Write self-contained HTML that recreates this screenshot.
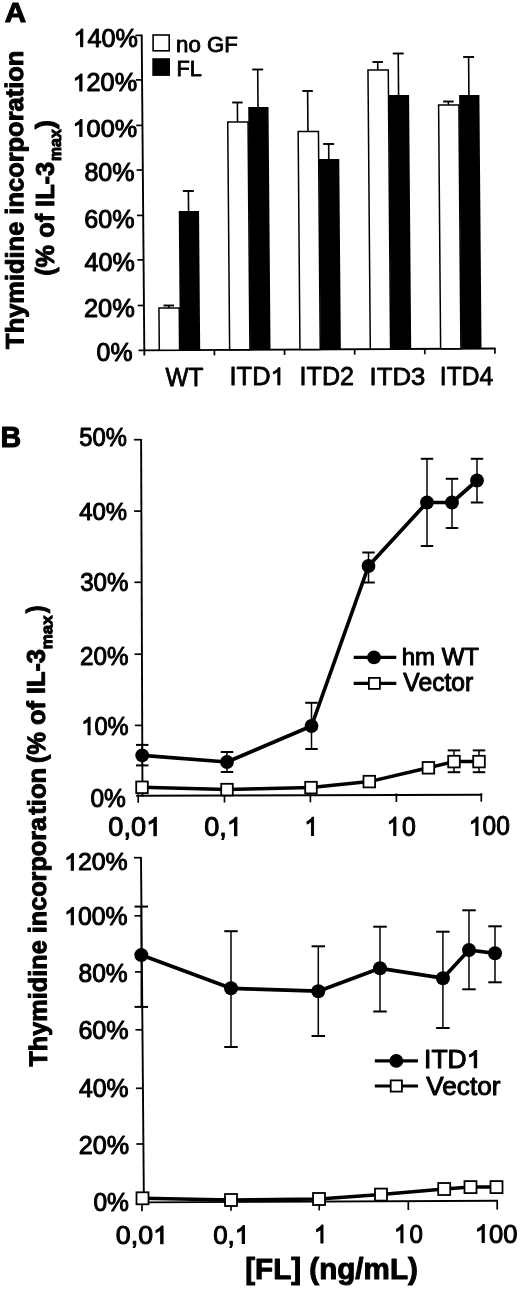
<!DOCTYPE html>
<html><head><meta charset="utf-8"><title>Figure</title>
<style>
html,body{margin:0;padding:0;background:#fff;}
body{width:520px;height:1291px;overflow:hidden;font-family:"Liberation Sans", sans-serif;}
svg{display:block;}
svg text{font-family:"Liberation Sans", sans-serif;fill:#000;stroke:#000;stroke-linejoin:round;}
</style></head>
<body>
<svg width="520" height="1291" viewBox="0 0 520 1291">
<defs><filter id="soft" x="0" y="0" width="520" height="1291" filterUnits="userSpaceOnUse"><feGaussianBlur stdDeviation="0.45"/></filter></defs>
<rect width="520" height="1291" fill="#fff"/>
<g filter="url(#soft)">
<text transform="translate(4.76 22.15) scale(1.0991 1)" font-size="26.96" font-weight="bold" stroke-width="1.0">A</text>
<text transform="translate(23.60 348.90) rotate(-90.13) scale(1.0063 1)" font-size="25.30" font-weight="bold" stroke-width="1.0">Thymidine incorporation</text>
<text transform="translate(53.90 275.82) rotate(-90.00) scale(0.9939 1)" font-size="25.50" font-weight="bold" stroke-width="1.0">(% of IL-3</text>
<text transform="translate(61.30 160.98) rotate(-90.00) scale(1.0028 1)" font-size="15.80" font-weight="bold" stroke-width="1.0">max</text>
<text transform="translate(53.90 128.88) rotate(-90.00) scale(1.0504 1)" font-size="25.50" font-weight="bold" stroke-width="1.0">)</text>
<line x1="141.70" y1="34.60" x2="144.35" y2="355.40" stroke="#000" stroke-width="1.9"/>
<line x1="138.50" y1="350.35" x2="495.60" y2="348.45" stroke="#000" stroke-width="1.9"/>
<line x1="137.74" y1="305.50" x2="143.94" y2="305.50" stroke="#000" stroke-width="1.7"/>
<line x1="137.36" y1="259.90" x2="143.56" y2="259.90" stroke="#000" stroke-width="1.7"/>
<line x1="136.99" y1="215.40" x2="143.19" y2="215.40" stroke="#000" stroke-width="1.7"/>
<line x1="136.62" y1="170.00" x2="142.82" y2="170.00" stroke="#000" stroke-width="1.7"/>
<line x1="136.25" y1="125.40" x2="142.45" y2="125.40" stroke="#000" stroke-width="1.7"/>
<line x1="135.87" y1="79.90" x2="142.07" y2="79.90" stroke="#000" stroke-width="1.7"/>
<line x1="135.51" y1="35.40" x2="141.71" y2="35.40" stroke="#000" stroke-width="1.7"/>
<line x1="214.42" y1="349.95" x2="214.42" y2="355.35" stroke="#000" stroke-width="1.7"/>
<line x1="284.54" y1="349.57" x2="284.54" y2="354.97" stroke="#000" stroke-width="1.7"/>
<line x1="354.66" y1="349.20" x2="354.66" y2="354.60" stroke="#000" stroke-width="1.7"/>
<line x1="424.78" y1="348.83" x2="424.78" y2="354.23" stroke="#000" stroke-width="1.7"/>
<line x1="494.90" y1="348.45" x2="494.90" y2="353.85" stroke="#000" stroke-width="1.7"/>
<line x1="168.75" y1="308.00" x2="168.73" y2="305.50" stroke="#000" stroke-width="1.6"/>
<line x1="163.48" y1="305.50" x2="173.98" y2="305.50" stroke="#000" stroke-width="1.9"/>
<line x1="188.55" y1="211.00" x2="188.38" y2="191.00" stroke="#000" stroke-width="1.6"/>
<line x1="182.88" y1="191.00" x2="193.88" y2="191.00" stroke="#000" stroke-width="1.9"/>
<polygon points="159.30,350.13 158.95,308 179.25,308 179.60,350.13" fill="#fff" stroke="#000" stroke-width="1.5"/>
<polygon points="179.90,350.13 178.75,211 199.05,211 200.20,350.13" fill="#000"/>
<line x1="237.54" y1="122.00" x2="237.38" y2="102.50" stroke="#000" stroke-width="1.6"/>
<line x1="232.13" y1="102.50" x2="242.63" y2="102.50" stroke="#000" stroke-width="1.9"/>
<line x1="258.02" y1="107.00" x2="257.70" y2="69.50" stroke="#000" stroke-width="1.6"/>
<line x1="252.20" y1="69.50" x2="263.20" y2="69.50" stroke="#000" stroke-width="1.9"/>
<polygon points="229.63,349.76 227.74,122 248.04,122 249.93,349.76" fill="#fff" stroke="#000" stroke-width="1.5"/>
<polygon points="250.23,349.76 248.22,107 268.52,107 270.53,349.76" fill="#000"/>
<line x1="307.95" y1="131.50" x2="307.62" y2="91.00" stroke="#000" stroke-width="1.6"/>
<line x1="302.37" y1="91.00" x2="312.87" y2="91.00" stroke="#000" stroke-width="1.9"/>
<line x1="328.78" y1="159.00" x2="328.66" y2="144.00" stroke="#000" stroke-width="1.6"/>
<line x1="323.16" y1="144.00" x2="334.16" y2="144.00" stroke="#000" stroke-width="1.9"/>
<polygon points="299.96,349.38 298.15,131.5 318.45,131.5 320.26,349.38" fill="#fff" stroke="#000" stroke-width="1.5"/>
<polygon points="320.56,349.38 318.98,159 339.28,159 340.86,349.38" fill="#000"/>
<line x1="377.77" y1="70.00" x2="377.71" y2="62.00" stroke="#000" stroke-width="1.6"/>
<line x1="372.46" y1="62.00" x2="382.96" y2="62.00" stroke="#000" stroke-width="1.9"/>
<line x1="398.58" y1="95.00" x2="398.24" y2="53.50" stroke="#000" stroke-width="1.6"/>
<line x1="392.74" y1="53.50" x2="403.74" y2="53.50" stroke="#000" stroke-width="1.9"/>
<polygon points="370.29,349.01 367.97,70 388.27,70 390.59,349.01" fill="#fff" stroke="#000" stroke-width="1.5"/>
<polygon points="390.89,349.01 388.78,95 409.08,95 411.19,349.01" fill="#000"/>
<line x1="448.40" y1="105.00" x2="448.37" y2="101.50" stroke="#000" stroke-width="1.6"/>
<line x1="443.12" y1="101.50" x2="453.62" y2="101.50" stroke="#000" stroke-width="1.9"/>
<line x1="468.91" y1="95.00" x2="468.60" y2="57.00" stroke="#000" stroke-width="1.6"/>
<line x1="463.10" y1="57.00" x2="474.10" y2="57.00" stroke="#000" stroke-width="1.9"/>
<polygon points="440.62,348.64 438.60,105 458.90,105 460.92,348.64" fill="#fff" stroke="#000" stroke-width="1.5"/>
<polygon points="461.22,348.64 459.11,95 479.41,95 481.52,348.64" fill="#000"/>
<g transform="translate(73.40 46.79) scale(0.9726 1)"><text font-size="25.92" stroke-width="1.0"><tspan visibility="hidden">1</tspan>40%</text><path transform="translate(0.00 0) scale(0.01265 -0.01265)" d="M763 0H583V1098Q518 1039 412 979T223 890V1057Q373 1125 486 1220T646 1409H763Z" stroke="#000" stroke-width="79.0" stroke-linejoin="round"/></g>
<g transform="translate(72.60 91.10) scale(1.0111 1)"><text font-size="24.93" stroke-width="1.0"><tspan visibility="hidden">1</tspan>20%</text><path transform="translate(0.00 0) scale(0.01217 -0.01217)" d="M763 0H583V1098Q518 1039 412 979T223 890V1057Q373 1125 486 1220T646 1409H763Z" stroke="#000" stroke-width="82.2" stroke-linejoin="round"/></g>
<g transform="translate(72.60 136.50) scale(1.0169 1)"><text font-size="24.79" stroke-width="1.0"><tspan visibility="hidden">1</tspan>00%</text><path transform="translate(0.00 0) scale(0.01210 -0.01210)" d="M763 0H583V1098Q518 1039 412 979T223 890V1057Q373 1125 486 1220T646 1409H763Z" stroke="#000" stroke-width="82.6" stroke-linejoin="round"/></g>
<text transform="translate(84.42 181.40) scale(0.9882 1)" font-size="25.35" stroke-width="1.0">80%</text>
<text transform="translate(84.29 227.60) scale(0.9907 1)" font-size="25.35" stroke-width="1.0">60%</text>
<text transform="translate(84.62 271.00) scale(0.9957 1)" font-size="25.21" stroke-width="1.0">40%</text>
<text transform="translate(83.98 317.00) scale(1.0144 1)" font-size="25.07" stroke-width="1.0">20%</text>
<text transform="translate(96.55 361.40) scale(0.9818 1)" font-size="25.35" stroke-width="1.0">0%</text>
<text transform="translate(165.43 385.65) scale(0.9612 1)" font-size="25.36" stroke-width="0.8">WT</text>
<g transform="translate(229.56 384.92) scale(1.0101 1)"><text font-size="25.18" stroke-width="0.8">ITD<tspan visibility="hidden">1</tspan></text><path transform="translate(40.56 0) scale(0.01229 -0.01229)" d="M763 0H583V1098Q518 1039 412 979T223 890V1057Q373 1125 486 1220T646 1409H763Z" stroke="#000" stroke-width="65.1" stroke-linejoin="round"/></g>
<text transform="translate(299.59 384.65) scale(0.9885 1)" font-size="25.43" stroke-width="0.8">ITD2</text>
<text transform="translate(369.54 385.00) scale(1.0433 1)" font-size="24.65" stroke-width="0.8">ITD3</text>
<text transform="translate(439.83 385.25) scale(0.9554 1)" font-size="25.80" stroke-width="0.8">ITD4</text>
<rect x="153.1" y="35.0" width="16.1" height="15.8" fill="#fff" stroke="#000" stroke-width="1.6"/>
<rect x="152.3" y="58.2" width="17.7" height="17.7" fill="#000"/>
<text transform="translate(176.10 52.23) scale(1.0322 1)" font-size="21.55" stroke-width="0.8">no GF</text>
<text transform="translate(176.61 75.85) scale(1.0189 1)" font-size="21.30" stroke-width="0.8">FL</text>
<text transform="translate(0.49 447.05) scale(0.9848 1)" font-size="29.13" font-weight="bold" stroke-width="1.0">B</text>
<line x1="141.10" y1="438.90" x2="142.50" y2="796.60" stroke="#000" stroke-width="1.9"/>
<line x1="136.20" y1="795.80" x2="482.20" y2="794.70" stroke="#000" stroke-width="1.9"/>
<line x1="134.92" y1="725.40" x2="142.22" y2="725.40" stroke="#000" stroke-width="1.7"/>
<line x1="134.64" y1="654.20" x2="141.94" y2="654.20" stroke="#000" stroke-width="1.7"/>
<line x1="134.36" y1="582.30" x2="141.66" y2="582.30" stroke="#000" stroke-width="1.7"/>
<line x1="134.08" y1="511.10" x2="141.38" y2="511.10" stroke="#000" stroke-width="1.7"/>
<line x1="133.80" y1="439.70" x2="141.10" y2="439.70" stroke="#000" stroke-width="1.7"/>
<line x1="138.20" y1="794.29" x2="138.20" y2="802.79" stroke="#000" stroke-width="1.7"/>
<line x1="224.50" y1="794.02" x2="224.50" y2="802.52" stroke="#000" stroke-width="1.7"/>
<line x1="310.40" y1="793.75" x2="310.40" y2="802.25" stroke="#000" stroke-width="1.7"/>
<line x1="396.40" y1="793.47" x2="396.40" y2="801.97" stroke="#000" stroke-width="1.7"/>
<line x1="481.30" y1="793.20" x2="481.30" y2="801.70" stroke="#000" stroke-width="1.7"/>
<line x1="454.00" y1="750.40" x2="454.00" y2="772.20" stroke="#000" stroke-width="1.5"/>
<line x1="447.75" y1="750.40" x2="460.25" y2="750.40" stroke="#000" stroke-width="2.0"/>
<line x1="447.75" y1="772.20" x2="460.25" y2="772.20" stroke="#000" stroke-width="2.0"/>
<line x1="479.00" y1="750.40" x2="479.00" y2="772.20" stroke="#000" stroke-width="1.5"/>
<line x1="472.75" y1="750.40" x2="485.25" y2="750.40" stroke="#000" stroke-width="2.0"/>
<line x1="472.75" y1="772.20" x2="485.25" y2="772.20" stroke="#000" stroke-width="2.0"/>
<polyline points="142,787.3 227,789.6 311,787.6 369.3,781.6 428.4,767.8 454,761.6 479,761.6" fill="none" stroke="#000" stroke-width="3.5" stroke-linejoin="round"/>
<rect x="136.20" y="781.50" width="11.6" height="11.6" fill="#fff" stroke="#000" stroke-width="1.8"/>
<rect x="221.20" y="783.80" width="11.6" height="11.6" fill="#fff" stroke="#000" stroke-width="1.8"/>
<rect x="305.20" y="781.80" width="11.6" height="11.6" fill="#fff" stroke="#000" stroke-width="1.8"/>
<rect x="363.50" y="775.80" width="11.6" height="11.6" fill="#fff" stroke="#000" stroke-width="1.8"/>
<rect x="422.60" y="762.00" width="11.6" height="11.6" fill="#fff" stroke="#000" stroke-width="1.8"/>
<rect x="448.20" y="755.80" width="11.6" height="11.6" fill="#fff" stroke="#000" stroke-width="1.8"/>
<rect x="473.20" y="755.80" width="11.6" height="11.6" fill="#fff" stroke="#000" stroke-width="1.8"/>
<line x1="142.20" y1="744.90" x2="142.20" y2="765.40" stroke="#000" stroke-width="1.5"/>
<line x1="135.95" y1="744.90" x2="148.45" y2="744.90" stroke="#000" stroke-width="2.0"/>
<line x1="135.95" y1="765.40" x2="148.45" y2="765.40" stroke="#000" stroke-width="2.0"/>
<line x1="227.00" y1="752.00" x2="227.00" y2="772.00" stroke="#000" stroke-width="1.5"/>
<line x1="220.75" y1="752.00" x2="233.25" y2="752.00" stroke="#000" stroke-width="2.0"/>
<line x1="220.75" y1="772.00" x2="233.25" y2="772.00" stroke="#000" stroke-width="2.0"/>
<line x1="311.50" y1="702.80" x2="311.50" y2="749.00" stroke="#000" stroke-width="1.5"/>
<line x1="305.25" y1="702.80" x2="317.75" y2="702.80" stroke="#000" stroke-width="2.0"/>
<line x1="305.25" y1="749.00" x2="317.75" y2="749.00" stroke="#000" stroke-width="2.0"/>
<line x1="368.50" y1="552.50" x2="368.50" y2="582.50" stroke="#000" stroke-width="1.5"/>
<line x1="362.25" y1="552.50" x2="374.75" y2="552.50" stroke="#000" stroke-width="2.0"/>
<line x1="362.25" y1="582.50" x2="374.75" y2="582.50" stroke="#000" stroke-width="2.0"/>
<line x1="427.00" y1="458.80" x2="427.00" y2="546.00" stroke="#000" stroke-width="1.5"/>
<line x1="420.75" y1="458.80" x2="433.25" y2="458.80" stroke="#000" stroke-width="2.0"/>
<line x1="420.75" y1="546.00" x2="433.25" y2="546.00" stroke="#000" stroke-width="2.0"/>
<line x1="452.00" y1="478.80" x2="452.00" y2="528.00" stroke="#000" stroke-width="1.5"/>
<line x1="445.75" y1="478.80" x2="458.25" y2="478.80" stroke="#000" stroke-width="2.0"/>
<line x1="445.75" y1="528.00" x2="458.25" y2="528.00" stroke="#000" stroke-width="2.0"/>
<line x1="477.00" y1="458.80" x2="477.00" y2="502.50" stroke="#000" stroke-width="1.5"/>
<line x1="470.75" y1="458.80" x2="483.25" y2="458.80" stroke="#000" stroke-width="2.0"/>
<line x1="470.75" y1="502.50" x2="483.25" y2="502.50" stroke="#000" stroke-width="2.0"/>
<polyline points="142.2,755.3 227,762 311.5,726 368.5,566 427,502.5 452,502.5 477,480.5" fill="none" stroke="#000" stroke-width="3.7" stroke-linejoin="round"/>
<circle cx="142.2" cy="755.3" r="6.9" fill="#000"/>
<circle cx="227" cy="762" r="6.9" fill="#000"/>
<circle cx="311.5" cy="726" r="6.9" fill="#000"/>
<circle cx="368.5" cy="566" r="6.9" fill="#000"/>
<circle cx="427" cy="502.5" r="6.9" fill="#000"/>
<circle cx="452" cy="502.5" r="6.9" fill="#000"/>
<circle cx="477" cy="480.5" r="6.9" fill="#000"/>
<text transform="translate(79.20 446.00) scale(0.9385 1)" font-size="25.35" stroke-width="1.0">50%</text>
<text transform="translate(79.25 520.30) scale(0.9649 1)" font-size="24.79" stroke-width="1.0">40%</text>
<text transform="translate(80.19 591.40) scale(0.9561 1)" font-size="25.21" stroke-width="1.0">30%</text>
<text transform="translate(79.94 664.50) scale(0.9611 1)" font-size="25.21" stroke-width="1.0">20%</text>
<g transform="translate(81.26 734.79) scale(0.9249 1)"><text font-size="25.63" stroke-width="1.0"><tspan visibility="hidden">1</tspan>0%</text><path transform="translate(0.00 0) scale(0.01252 -0.01252)" d="M763 0H583V1098Q518 1039 412 979T223 890V1057Q373 1125 486 1220T646 1409H763Z" stroke="#000" stroke-width="79.9" stroke-linejoin="round"/></g>
<text transform="translate(90.47 806.80) scale(0.9728 1)" font-size="25.21" stroke-width="1.0">0%</text>
<g transform="translate(108.36 835.80) scale(1.0145 1)"><text font-size="26.80" stroke-width="1.0">0,0<tspan visibility="hidden">1</tspan></text><path transform="translate(37.26 0) scale(0.01309 -0.01309)" d="M763 0H583V1098Q518 1039 412 979T223 890V1057Q373 1125 486 1220T646 1409H763Z" stroke="#000" stroke-width="76.4" stroke-linejoin="round"/></g>
<g transform="translate(204.17 835.70) scale(1.0110 1)"><text font-size="26.80" stroke-width="1.0">0,<tspan visibility="hidden">1</tspan></text><path transform="translate(22.35 0) scale(0.01309 -0.01309)" d="M763 0H583V1098Q518 1039 412 979T223 890V1057Q373 1125 486 1220T646 1409H763Z" stroke="#000" stroke-width="76.4" stroke-linejoin="round"/></g>
<g transform="translate(304.32 835.60) scale(0.9300 1)"><text font-size="26.80" stroke-width="1.0"><tspan visibility="hidden">1</tspan></text><path transform="translate(0.00 0) scale(0.01309 -0.01309)" d="M763 0H583V1098Q518 1039 412 979T223 890V1057Q373 1125 486 1220T646 1409H763Z" stroke="#000" stroke-width="76.4" stroke-linejoin="round"/></g>
<g transform="translate(386.62 835.50) scale(0.9300 1)"><text font-size="26.80" stroke-width="1.0"><tspan visibility="hidden">1</tspan></text><path transform="translate(0.00 0) scale(0.01309 -0.01309)" d="M763 0H583V1098Q518 1039 412 979T223 890V1057Q373 1125 486 1220T646 1409H763Z" stroke="#000" stroke-width="76.4" stroke-linejoin="round"/></g>
<text transform="translate(402.08 835.50) scale(0.9300 1)" font-size="26.80" stroke-width="1.0">0</text>
<g transform="translate(468.87 835.40) scale(0.9157 1)"><text font-size="26.80" stroke-width="1.0"><tspan visibility="hidden">1</tspan>00</text><path transform="translate(0.00 0) scale(0.01309 -0.01309)" d="M763 0H583V1098Q518 1039 412 979T223 890V1057Q373 1125 486 1220T646 1409H763Z" stroke="#000" stroke-width="76.4" stroke-linejoin="round"/></g>
<line x1="353.70" y1="657.40" x2="396.30" y2="657.40" stroke="#000" stroke-width="3.1"/>
<circle cx="374.0" cy="657.4" r="6.9" fill="#000"/>
<text transform="translate(401.67 664.55) scale(0.9897 1)" font-size="24.28" stroke-width="1.0">hm WT</text>
<line x1="353.70" y1="683.40" x2="396.30" y2="683.40" stroke="#000" stroke-width="3.1"/>
<rect x="368.9" y="677.9" width="11.0" height="11.0" fill="#fff" stroke="#000" stroke-width="1.8"/>
<text transform="translate(403.33 691.00) scale(0.9699 1)" font-size="25.43" stroke-width="1.0">Vector</text>
<text transform="translate(47.00 1066.60) rotate(-90.33) scale(0.9991 1)" font-size="25.30" font-weight="bold" stroke-width="1.0">Thymidine incorpora</text>
<text transform="translate(45.56 814.81) rotate(-90.33) scale(1.0173 1)" font-size="25.30" font-weight="bold" stroke-width="1.0">tion</text>
<text transform="translate(45.26 763.02) rotate(-90.33) scale(0.9930 1)" font-size="25.50" font-weight="bold" stroke-width="1.0">(% of IL-3</text>
<text transform="translate(52.30 649.25) rotate(-90.33) scale(1.0718 1)" font-size="15.80" font-weight="bold" stroke-width="1.0">max</text>
<text transform="translate(44.40 613.37) rotate(-90.33) scale(0.9136 1)" font-size="25.80" font-weight="bold" stroke-width="1.0">)</text>
<line x1="141.00" y1="856.90" x2="143.90" y2="1203.20" stroke="#000" stroke-width="1.9"/>
<line x1="143.20" y1="1202.40" x2="497.80" y2="1200.80" stroke="#000" stroke-width="1.9"/>
<line x1="136.40" y1="1144.00" x2="143.40" y2="1144.00" stroke="#000" stroke-width="1.7"/>
<line x1="135.94" y1="1088.30" x2="142.94" y2="1088.30" stroke="#000" stroke-width="1.7"/>
<line x1="135.45" y1="1029.80" x2="142.45" y2="1029.80" stroke="#000" stroke-width="1.7"/>
<line x1="134.96" y1="971.90" x2="141.96" y2="971.90" stroke="#000" stroke-width="1.7"/>
<line x1="134.49" y1="915.80" x2="141.49" y2="915.80" stroke="#000" stroke-width="1.7"/>
<line x1="134.01" y1="857.70" x2="141.01" y2="857.70" stroke="#000" stroke-width="1.7"/>
<line x1="142.00" y1="1202.41" x2="142.00" y2="1211.21" stroke="#000" stroke-width="1.7"/>
<line x1="231.00" y1="1202.00" x2="231.00" y2="1210.80" stroke="#000" stroke-width="1.7"/>
<line x1="319.20" y1="1201.61" x2="319.20" y2="1210.41" stroke="#000" stroke-width="1.7"/>
<line x1="408.30" y1="1201.20" x2="408.30" y2="1210.00" stroke="#000" stroke-width="1.7"/>
<line x1="497.20" y1="1200.80" x2="497.20" y2="1209.60" stroke="#000" stroke-width="1.7"/>
<line x1="141.30" y1="906.60" x2="141.30" y2="1006.90" stroke="#000" stroke-width="1.5"/>
<line x1="134.55" y1="906.60" x2="148.05" y2="906.60" stroke="#000" stroke-width="2.0"/>
<line x1="134.55" y1="1006.90" x2="148.05" y2="1006.90" stroke="#000" stroke-width="2.0"/>
<line x1="231.00" y1="931.20" x2="231.00" y2="1047.00" stroke="#000" stroke-width="1.5"/>
<line x1="224.25" y1="931.20" x2="237.75" y2="931.20" stroke="#000" stroke-width="2.0"/>
<line x1="224.25" y1="1047.00" x2="237.75" y2="1047.00" stroke="#000" stroke-width="2.0"/>
<line x1="318.30" y1="946.30" x2="318.30" y2="1036.00" stroke="#000" stroke-width="1.5"/>
<line x1="311.55" y1="946.30" x2="325.05" y2="946.30" stroke="#000" stroke-width="2.0"/>
<line x1="311.55" y1="1036.00" x2="325.05" y2="1036.00" stroke="#000" stroke-width="2.0"/>
<line x1="380.00" y1="926.70" x2="380.00" y2="1011.50" stroke="#000" stroke-width="1.5"/>
<line x1="373.25" y1="926.70" x2="386.75" y2="926.70" stroke="#000" stroke-width="2.0"/>
<line x1="373.25" y1="1011.50" x2="386.75" y2="1011.50" stroke="#000" stroke-width="2.0"/>
<line x1="442.90" y1="931.70" x2="442.90" y2="1028.00" stroke="#000" stroke-width="1.5"/>
<line x1="436.15" y1="931.70" x2="449.65" y2="931.70" stroke="#000" stroke-width="2.0"/>
<line x1="436.15" y1="1028.00" x2="449.65" y2="1028.00" stroke="#000" stroke-width="2.0"/>
<line x1="469.00" y1="910.30" x2="469.00" y2="989.30" stroke="#000" stroke-width="1.5"/>
<line x1="462.25" y1="910.30" x2="475.75" y2="910.30" stroke="#000" stroke-width="2.0"/>
<line x1="462.25" y1="989.30" x2="475.75" y2="989.30" stroke="#000" stroke-width="2.0"/>
<line x1="495.00" y1="926.30" x2="495.00" y2="982.30" stroke="#000" stroke-width="1.5"/>
<line x1="488.25" y1="926.30" x2="501.75" y2="926.30" stroke="#000" stroke-width="2.0"/>
<line x1="488.25" y1="982.30" x2="501.75" y2="982.30" stroke="#000" stroke-width="2.0"/>
<polyline points="141.3,955.1 231,988.3 318.3,991.2 380,968.3 442.9,978.2 469,950 495,953.3" fill="none" stroke="#000" stroke-width="3.7" stroke-linejoin="round"/>
<circle cx="141.3" cy="955.1" r="7.0" fill="#000"/>
<circle cx="231" cy="988.3" r="7.0" fill="#000"/>
<circle cx="318.3" cy="991.2" r="7.0" fill="#000"/>
<circle cx="380" cy="968.3" r="7.0" fill="#000"/>
<circle cx="442.9" cy="978.2" r="7.0" fill="#000"/>
<circle cx="469" cy="950" r="7.0" fill="#000"/>
<circle cx="495" cy="953.3" r="7.0" fill="#000"/>
<polyline points="142.5,1198.3 231,1200 319,1199 381,1194.6 444.2,1189 470.5,1187.1 496.5,1187.1" fill="none" stroke="#000" stroke-width="3.5" stroke-linejoin="round"/>
<rect x="136.50" y="1192.30" width="12.0" height="12.0" fill="#fff" stroke="#000" stroke-width="1.8"/>
<rect x="225.00" y="1194.00" width="12.0" height="12.0" fill="#fff" stroke="#000" stroke-width="1.8"/>
<rect x="313.00" y="1193.00" width="12.0" height="12.0" fill="#fff" stroke="#000" stroke-width="1.8"/>
<rect x="375.00" y="1188.60" width="12.0" height="12.0" fill="#fff" stroke="#000" stroke-width="1.8"/>
<rect x="438.20" y="1183.00" width="12.0" height="12.0" fill="#fff" stroke="#000" stroke-width="1.8"/>
<rect x="464.50" y="1181.10" width="12.0" height="12.0" fill="#fff" stroke="#000" stroke-width="1.8"/>
<rect x="490.50" y="1181.10" width="12.0" height="12.0" fill="#fff" stroke="#000" stroke-width="1.8"/>
<g transform="translate(64.14 870.30) scale(1.0134 1)"><text font-size="24.51" stroke-width="1.0"><tspan visibility="hidden">1</tspan>20%</text><path transform="translate(0.00 0) scale(0.01197 -0.01197)" d="M763 0H583V1098Q518 1039 412 979T223 890V1057Q373 1125 486 1220T646 1409H763Z" stroke="#000" stroke-width="83.6" stroke-linejoin="round"/></g>
<g transform="translate(64.14 924.80) scale(0.9906 1)"><text font-size="25.07" stroke-width="1.0"><tspan visibility="hidden">1</tspan>00%</text><path transform="translate(0.00 0) scale(0.01224 -0.01224)" d="M763 0H583V1098Q518 1039 412 979T223 890V1057Q373 1125 486 1220T646 1409H763Z" stroke="#000" stroke-width="81.7" stroke-linejoin="round"/></g>
<text transform="translate(78.54 981.90) scale(0.9806 1)" font-size="25.07" stroke-width="1.0">80%</text>
<text transform="translate(78.39 1038.60) scale(1.0019 1)" font-size="25.07" stroke-width="1.0">60%</text>
<text transform="translate(79.03 1096.90) scale(0.9890 1)" font-size="25.07" stroke-width="1.0">40%</text>
<text transform="translate(78.79 1154.00) scale(1.0096 1)" font-size="24.93" stroke-width="1.0">20%</text>
<text transform="translate(93.42 1211.10) scale(0.9867 1)" font-size="24.93" stroke-width="1.0">0%</text>
<g transform="translate(115.83 1243.80) scale(1.0301 1)"><text font-size="26.00" stroke-width="1.0">0,0<tspan visibility="hidden">1</tspan></text><path transform="translate(36.14 0) scale(0.01270 -0.01270)" d="M763 0H583V1098Q518 1039 412 979T223 890V1057Q373 1125 486 1220T646 1409H763Z" stroke="#000" stroke-width="78.8" stroke-linejoin="round"/></g>
<g transform="translate(213.21 1243.50) scale(0.9961 1)"><text font-size="26.00" stroke-width="1.0">0,<tspan visibility="hidden">1</tspan></text><path transform="translate(21.68 0) scale(0.01270 -0.01270)" d="M763 0H583V1098Q518 1039 412 979T223 890V1057Q373 1125 486 1220T646 1409H763Z" stroke="#000" stroke-width="78.8" stroke-linejoin="round"/></g>
<g transform="translate(314.00 1243.00) scale(0.9300 1)"><text font-size="26.00" stroke-width="1.0"><tspan visibility="hidden">1</tspan></text><path transform="translate(0.00 0) scale(0.01270 -0.01270)" d="M763 0H583V1098Q518 1039 412 979T223 890V1057Q373 1125 486 1220T646 1409H763Z" stroke="#000" stroke-width="78.8" stroke-linejoin="round"/></g>
<g transform="translate(394.00 1242.70) scale(0.9300 1)"><text font-size="26.00" stroke-width="1.0"><tspan visibility="hidden">1</tspan></text><path transform="translate(0.00 0) scale(0.01270 -0.01270)" d="M763 0H583V1098Q518 1039 412 979T223 890V1057Q373 1125 486 1220T646 1409H763Z" stroke="#000" stroke-width="78.8" stroke-linejoin="round"/></g>
<text transform="translate(409.59 1242.70) scale(0.9300 1)" font-size="26.00" stroke-width="1.0">0</text>
<g transform="translate(474.76 1242.50) scale(0.9843 1)"><text font-size="26.00" stroke-width="1.0"><tspan visibility="hidden">1</tspan>00</text><path transform="translate(0.00 0) scale(0.01270 -0.01270)" d="M763 0H583V1098Q518 1039 412 979T223 890V1057Q373 1125 486 1220T646 1409H763Z" stroke="#000" stroke-width="78.8" stroke-linejoin="round"/></g>
<text transform="translate(245.22 1279.20) scale(1.0283 1)" font-size="28.80" font-weight="bold" stroke-width="1.0">[FL] (ng/mL)</text>
<line x1="374.80" y1="1060.90" x2="418.00" y2="1060.90" stroke="#000" stroke-width="3.1"/>
<circle cx="396.3" cy="1060.9" r="6.9" fill="#000"/>
<g transform="translate(424.07 1067.82) scale(1.0521 1)"><text font-size="25.18" stroke-width="1.0">ITD<tspan visibility="hidden">1</tspan></text><path transform="translate(40.56 0) scale(0.01229 -0.01229)" d="M763 0H583V1098Q518 1039 412 979T223 890V1057Q373 1125 486 1220T646 1409H763Z" stroke="#000" stroke-width="81.3" stroke-linejoin="round"/></g>
<line x1="374.80" y1="1086.00" x2="418.00" y2="1086.00" stroke="#000" stroke-width="3.1"/>
<rect x="390.7" y="1080.4" width="11.2" height="11.2" fill="#fff" stroke="#000" stroke-width="1.8"/>
<text transform="translate(426.32 1094.70) scale(1.0344 1)" font-size="25.29" stroke-width="1.0">Vector</text>
</g>
</svg>
</body></html>
